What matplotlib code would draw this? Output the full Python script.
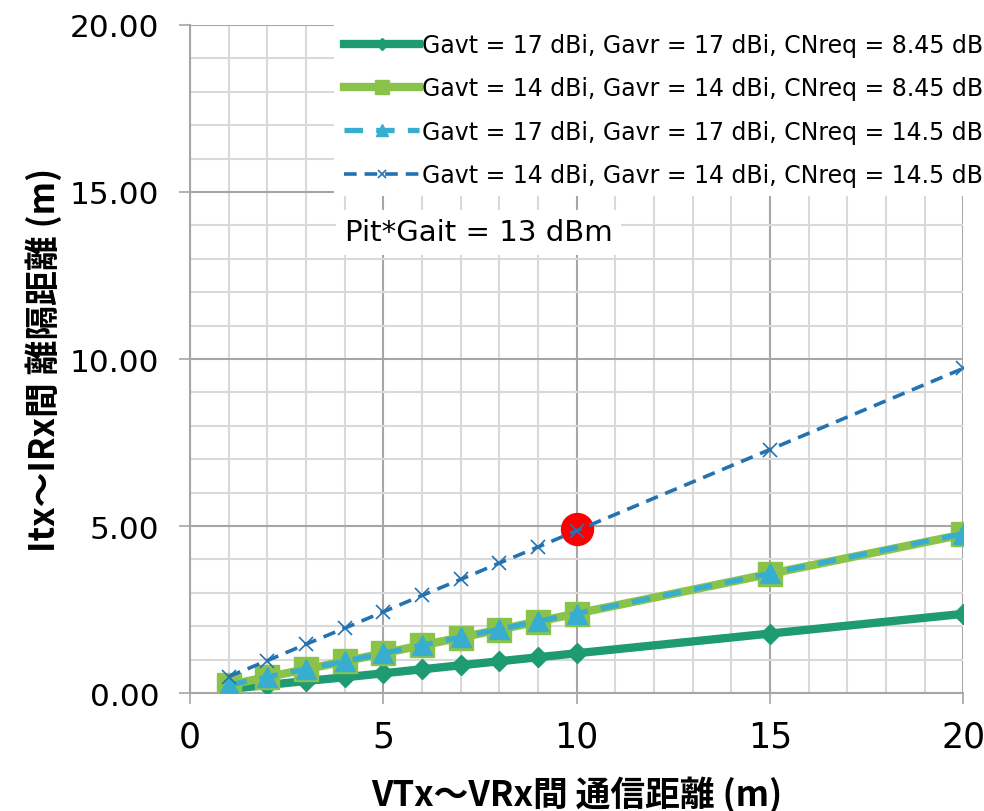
import matplotlib
matplotlib.use("Agg")
import matplotlib.pyplot as plt
from matplotlib.ticker import MultipleLocator

# communication distance VTx-VRx (m)
distance = [1, 2, 3, 4, 5, 6, 7, 8, 9, 10, 15, 20]

# separation distance Itx-IRx (m) for each antenna gain / CN requirement
sep_17_845 = [0.12, 0.24, 0.36, 0.47, 0.59, 0.71, 0.83, 0.95, 1.07, 1.19, 1.78, 2.37]
sep_14_845 = [0.24, 0.48, 0.71, 0.95, 1.19, 1.43, 1.66, 1.90, 2.14, 2.38, 3.57, 4.75]
sep_17_145 = [0.24, 0.48, 0.72, 0.95, 1.19, 1.43, 1.67, 1.91, 2.15, 2.38, 3.58, 4.77]
sep_14_145 = [0.49, 0.97, 1.46, 1.94, 2.43, 2.92, 3.40, 3.89, 4.37, 4.86, 7.29, 9.72]

labels = [
    "Gavt = 17 dBi, Gavr = 17 dBi, CNreq = 8.45 dB",
    "Gavt = 14 dBi, Gavr = 14 dBi, CNreq = 8.45 dB",
    "Gavt = 17 dBi, Gavr = 17 dBi, CNreq = 14.5 dB",
    "Gavt = 14 dBi, Gavr = 14 dBi, CNreq = 14.5 dB",
]

# highlighted operating point
point_x = [10]
point_y = [4.9]

plt.rcParams['font.family'] = ['DejaVu Sans']

fig = plt.figure(figsize=(9.84, 8.12), dpi=100)
ax = fig.add_axes([0.193, 0.1453, 0.786, 0.8227])

ax.plot(distance, sep_17_845, color="#1e9b73", lw=6, marker="D", ms=10,
        label=labels[0], zorder=3)
ax.plot(distance, sep_14_845, color="#8bc34a", lw=6, marker="s", ms=17,
        label=labels[1], zorder=4)
ax.plot(distance, sep_17_145, color="#37adcf", lw=3.8, ls=(0, (3.5, 2.5)),
        marker="^", ms=15, label=labels[2], zorder=5)
ax.plot(point_x, point_y, "o", color="#ff0000", ms=23, zorder=6)
ax.plot(distance, sep_14_145, color="#2372b1", lw=2.6, ls=(0, (3.5, 2.2)),
        marker="x", ms=10, mew=1.2, label=labels[3], zorder=7)

ax.set_xlim(0, 20)
ax.set_ylim(0, 20)
ax.xaxis.set_major_locator(MultipleLocator(5))
ax.xaxis.set_minor_locator(MultipleLocator(1))
ax.yaxis.set_major_locator(MultipleLocator(5))
ax.yaxis.set_minor_locator(MultipleLocator(1))
ax.grid(which="minor", color="#d9d9d9", lw=1.5, zorder=0)
ax.grid(which="major", color="#a6a6a6", lw=1.5, zorder=0)
ax.set_axisbelow(True)
for s in ["top", "right"]:
    ax.spines[s].set_visible(False)
for s in ["left", "bottom"]:
    ax.spines[s].set_color("#a6a6a6")
    ax.spines[s].set_linewidth(1.5)
ax.tick_params(which="major", length=8, width=1.2, color="#a6a6a6")
ax.tick_params(which="minor", length=0)
ax.tick_params(axis="x", labelsize=25, pad=11)
ax.tick_params(axis="y", labelsize=22.5, pad=14)
ax.set_yticklabels([f"{v:.2f}" for v in ax.get_yticks()])

cjk = ['Noto Sans CJK JP', 'DejaVu Sans']
ax.set_xlabel("VTx～VRx間 通信距離 (m)", fontsize=25, fontweight="bold",
              family=cjk, labelpad=16)
ax.set_ylabel("Itx～IRx間 離隔距離 (m)", fontsize=25, fontweight="bold",
              family=cjk, labelpad=6)

leg = ax.legend(loc="upper right", bbox_to_anchor=(1.009, 0.97),
                bbox_transform=fig.transFigure, fontsize=17,
                handlelength=3.2, handletextpad=0.12, labelspacing=0.82,
                borderaxespad=0, frameon=True, fancybox=False,
                borderpad=0.4, framealpha=1, markerscale=0.6)
leg.get_frame().set_edgecolor("none")
leg.set_zorder(10)

ax.text(0.2, 0.69, "Pit*Gait = 13 dBm", transform=ax.transAxes,
        fontsize=21, va="center", ha="left", zorder=10,
        bbox=dict(facecolor="white", edgecolor="none", pad=6))

fig.savefig("out.png", dpi=100)
